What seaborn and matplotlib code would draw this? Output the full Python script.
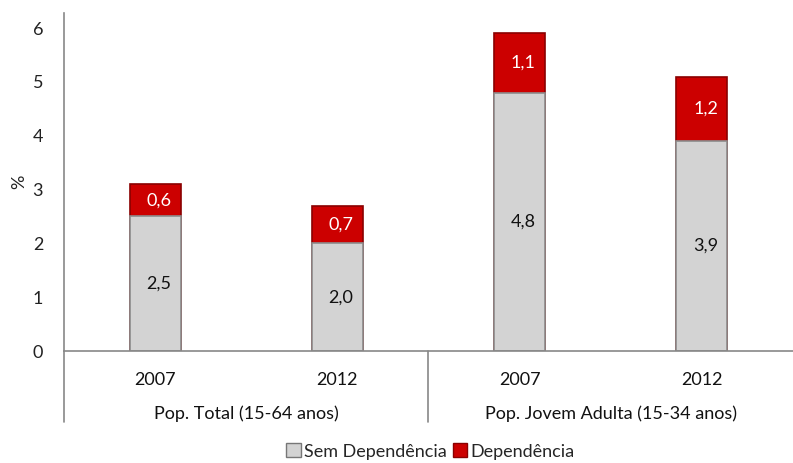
import pandas as pd
import matplotlib.pyplot as plt
import matplotlib.patches as mpatches
import seaborn as sns

# Chart data
categorias = ['2007 a', '2012 a', '2007 b', '2012 b']
anos = ['2007', '2012', '2007', '2012']
grupos = ['Pop. Total (15-64 anos)', 'Pop. Jovem Adulta (15-34 anos)']
sem_dependencia = [2.5, 2.0, 4.8, 3.9]
dependencia = [0.6, 0.7, 1.1, 1.2]

df = pd.DataFrame({'cat': categorias, 'sem': sem_dependencia, 'dep': dependencia})
df['total'] = df['sem'] + df['dep']

sns.set_style('white')
plt.rcParams['font.family'] = ['Lato', 'DejaVu Sans']

fig = plt.figure(figsize=(7.93, 4.63), dpi=100)
ax = fig.add_axes([0.0807, 0.2419, 0.9193, 0.7300])

gray = '#d3d3d3'
red = '#cc0000'
fs = 13

# red drawn as the full stack, gray over its lower part
sns.barplot(data=df, x='cat', y='total', color=red, width=0.28, saturation=1,
            edgecolor='#8a0000', linewidth=1.2, ax=ax)
sns.barplot(data=df, x='cat', y='sem', color=gray, width=0.28, saturation=1,
            edgecolor='#8c8c8c', linewidth=1.2, ax=ax)

for i, row in df.iterrows():
    ax.text(i + 0.02, row['sem'] / 2, f"{row['sem']:.1f}".replace('.', ','),
            ha='center', va='center', fontsize=fs, color='#111111')
    ax.text(i + 0.02, row['sem'] + row['dep'] / 2, f"{row['dep']:.1f}".replace('.', ','),
            ha='center', va='center', fontsize=fs, color='white')

ax.set_xlim(-0.5, 3.5)
ax.set_ylim(0, 6.28)
ax.set_yticks(range(0, 7))
ax.tick_params(axis='y', labelsize=fs, colors='#222222', length=0, pad=15)
ax.set_xticks([])
ax.set_xlabel('')
ax.set_ylabel('%', fontsize=fs, color='#222222', labelpad=4)

for s in ['top', 'right']:
    ax.spines[s].set_visible(False)
ax.spines['left'].set_color('#888888')
ax.spines['bottom'].set_color('#888888')
ax.spines['left'].set_linewidth(1.2)
ax.spines['bottom'].set_linewidth(1.2)

# two-level category axis
trans = ax.get_xaxis_transform()
for i, a in enumerate(anos):
    ax.text(i, -0.085, a, transform=trans, ha='center', va='center', fontsize=fs, color='#111111')
ax.text(0.5, -0.185, grupos[0], transform=trans, ha='center', va='center', fontsize=fs, color='#111111')
ax.text(2.5, -0.185, grupos[1], transform=trans, ha='center', va='center', fontsize=fs, color='#111111')
for xpos in [-0.5, 1.5]:
    ax.plot([xpos, xpos], [0, -0.21], transform=trans, color='#888888', lw=1.2, clip_on=False)

handles = [mpatches.Patch(facecolor=gray, edgecolor='#777777', label='Sem Dependência'),
           mpatches.Patch(facecolor=red, edgecolor='#8a0000', label='Dependência')]
fig.legend(handles=handles, loc='center', bbox_to_anchor=(0.543, 0.025), ncol=2, frameon=False,
           fontsize=fs, handlelength=0.8, handleheight=0.8, handletextpad=0.2, columnspacing=0.3)

fig.savefig('out.png', dpi=100)
